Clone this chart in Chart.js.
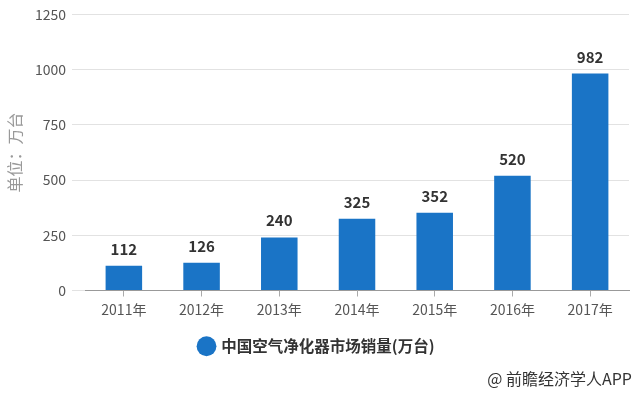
<!DOCTYPE html>
<html>
<head>
<meta charset="utf-8">
<script src="https://cdn.jsdelivr.net/npm/chart.js@4"></script>
<style>
  html, body { margin: 0; padding: 0; background: #fff; }
  #wrap { position: relative; width: 640px; height: 394px; }
  #credit { position: absolute; right: 8px; top: 366px; font: 16px "Noto Sans CJK SC", sans-serif; color: #333; }
</style>
</head>
<body>
<div id="wrap">
  <canvas id="c" width="640" height="394"></canvas>
  <div id="credit">@ 前瞻经济学人APP</div>
</div>
<script>
// 数据
var years = ['2011年', '2012年', '2013年', '2014年', '2015年', '2016年', '2017年'];
var sales = [112, 126, 240, 325, 352, 520, 982];
var yTicks = [0, 250, 500, 750, 1000, 1250];

var FONT = '"Noto Sans CJK SC", sans-serif';

// 柱顶数值
var valueLabels = {
  id: 'valueLabels',
  afterDatasetsDraw: function(chart) {
    var ctx = chart.ctx;
    var meta = chart.getDatasetMeta(0);
    ctx.save();
    ctx.font = 'bold 15px ' + FONT;
    ctx.fillStyle = '#333';
    ctx.textAlign = 'center';
    ctx.textBaseline = 'alphabetic';
    meta.data.forEach(function(bar, i) {
      ctx.fillText(sales[i], bar.x, bar.y - 11);
    });
    ctx.restore();
  }
};

new Chart(document.getElementById('c'), {
  type: 'bar',
  data: {
    labels: years,
    datasets: [{
      label: '中国空气净化器市场销量(万台)',
      data: sales,
      backgroundColor: '#1a74c6',
      barPercentage: 0.47,
      categoryPercentage: 1
    }]
  },
  options: {
    responsive: false,
    animation: false,
    layout: { padding: { top: 6, right: 11, left: 5, bottom: 30 } },
    plugins: {
      tooltip: { enabled: false },
      legend: {
        position: 'bottom',
        labels: {
          usePointStyle: true,
          pointStyle: 'circle',
          boxWidth: 14,
          boxHeight: 14,
          padding: 8,
          color: '#333',
          font: { family: FONT, size: 15.5, weight: 'bold' }
        }
      }
    },
    scales: {
      x: {
        grid: { display: true, drawOnChartArea: false, offset: false, tickLength: 6, color: '#aaa' },
        border: { display: true, color: '#999' },
        ticks: { color: '#555', font: { family: FONT, size: 14 }, padding: 5 },
        afterFit: function(scale) { scale.height = 40; }
      },
      y: {
        min: 0,
        max: 1250,
        afterBuildTicks: function(scale) {
          scale.ticks = yTicks.map(function(v) { return { value: v }; });
        },
        grid: { color: '#e2e2e2', tickLength: 13, drawTicks: true },
        border: { display: false },
        ticks: {
          color: '#555',
          font: { family: FONT, size: 14 },
          padding: 6,
          callback: function(v) { return String(v); }
        },
        title: { display: true, text: '单位：万台', color: '#999', font: { family: FONT, size: 16 }, padding: 0 },
        afterFit: function(scale) { scale.width = 80; }
      }
    }
  },
  plugins: [valueLabels]
});
</script>
</body>
</html>
